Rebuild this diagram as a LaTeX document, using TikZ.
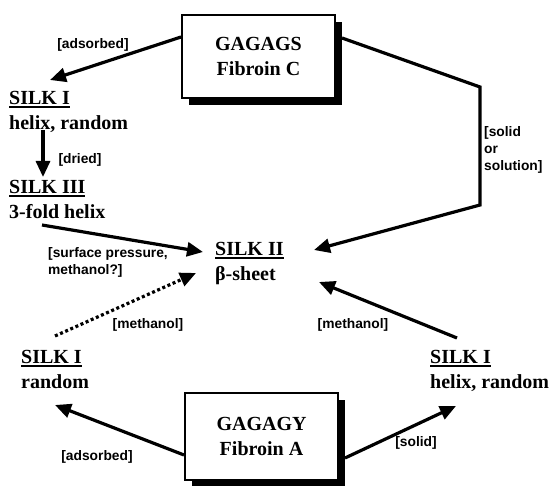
\documentclass[tikz,border=0pt]{standalone}
\usepackage{fontspec}
\setmainfont{Liberation Serif}
\newfontfamily\labelfont{Liberation Sans}
\usetikzlibrary{arrows.meta,shadows}
\newlength\ulwid
\newcommand\uln[1]{\settowidth\ulwid{#1}\rlap{\rule[-3.2pt]{\ulwid}{1.6pt}}#1}
\begin{document}
\begin{tikzpicture}[x=1pt,y=-1pt,
  state/.style={anchor=north west,inner sep=0pt,align=left,font=\fontsize{20}{25}\selectfont\bfseries},
  lbl/.style={inner sep=0pt,align=left,font=\labelfont\bfseries\fontsize{13.8}{17}\selectfont},
  fibbox/.style={draw,line width=2pt,fill=white,align=center,
    font=\fontsize{20}{25}\selectfont\bfseries,
    general shadow={fill=black,shadow xshift=7pt,shadow yshift=-7pt}},
  conn/.style={line width=3.2pt,-{Triangle[length=16pt,width=14pt]}},
  dotconn/.style={line width=3.2pt,dash pattern=on 3pt off 2.6pt,-{Triangle[length=16pt,width=14pt]}}
]
\useasboundingbox (0,0) rectangle (552,486);
% boxes
\node[fibbox,minimum width=153pt,minimum height=83pt] (fibC) at (258.5,56.5) {GAGAGS\\Fibroin C};
\node[fibbox,minimum width=153pt,minimum height=87pt] (fibA) at (261.5,436.5) {GAGAGY\\Fibroin A};
% states
\node[state] (s1a) at (9,91) {\uln{SILK I}\\helix, random};
\node[state] (s3) at (9,180) {\uln{SILK III}\\3-fold helix};
\node[state] (s2) at (215,242) {\uln{SILK II}\\β-sheet};
\node[state] (s1b) at (21,350) {\uln{SILK I}\\random};
\node[state] (s1c) at (430,350) {\uln{SILK I}\\helix, random};
% labels
\node[lbl] (l1) at (93,45) {[adsorbed]};
\node[lbl] (l2) at (80,160) {[dried]};
\node[lbl,anchor=north west] (l3) at (484,126) {[solid\\or\\solution]};
\node[lbl,anchor=north west] (l4) at (48,247) {[surface pressure,\\methanol?]};
\node[lbl] (l5) at (148,325) {[methanol]};
\node[lbl] (l6) at (353,325) {[methanol]};
\node[lbl] (l7) at (97,457) {[adsorbed]};
\node[lbl] (l8) at (416,443) {[solid]};
% connector ends
\coordinate (c1s) at (fibC.west |- 0,37);
\coordinate (c1e) at (50,80);
\coordinate (c2s) at (342,38);
\coordinate (c2a) at (480,87);
\coordinate (c2b) at (480,205);
\coordinate (c2e) at (314,250);
\coordinate (c3s) at (43,130);
\coordinate (c3e) at (43,177);
\coordinate (c4s) at (42,225);
\coordinate (c4e) at (203,252);
\coordinate (c5s) at (55,336);
\coordinate (c5e) at (196,273);
\coordinate (c6s) at (457,338);
\coordinate (c6e) at (319,282);
\coordinate (c7s) at (fibA.west |- 0,455);
\coordinate (c7e) at (55,405);
\coordinate (c8s) at (345,458);
\coordinate (c8e) at (456,406);
% connectors
\draw[conn] (c1s) -- (c1e);
\draw[conn,line join=miter] (c2s) -- (c2a) -- (c2b) -- (c2e);
\draw[conn] (c3s) -- (c3e);
\draw[conn] (c4s) -- (c4e);
\draw[dotconn] (c5s) -- (c5e);
\draw[conn] (c6s) -- (c6e);
\draw[conn] (c7s) -- (c7e);
\draw[conn] (c8s) -- (c8e);
\end{tikzpicture}
\end{document}
